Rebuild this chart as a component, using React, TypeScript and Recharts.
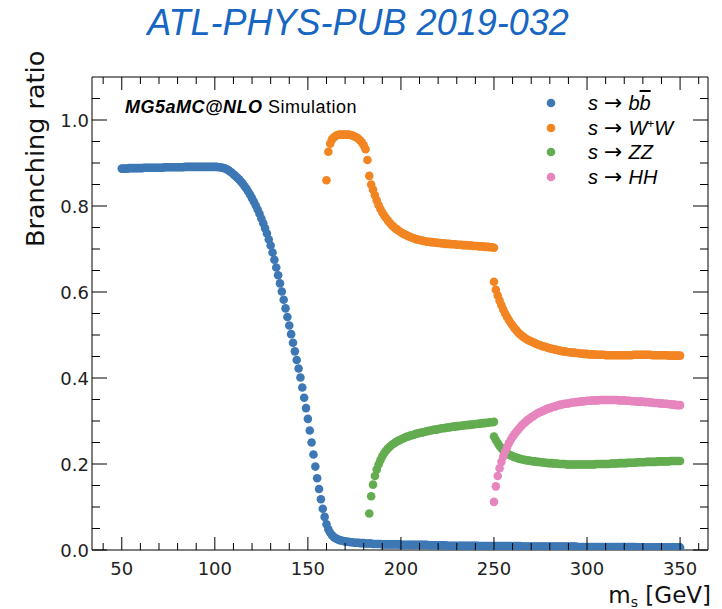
import React from "react";
import { ScatterChart, Scatter, XAxis, YAxis } from "recharts";

// mass grid of every series is 1 GeV, starting at the given mass
const bbStart = 50;
const bbRatio = [
  0.887, 0.887, 0.887, 0.887, 0.888, 0.888, 0.888, 0.888, 0.888, 0.888,
  0.888, 0.888, 0.889, 0.889, 0.889, 0.889, 0.889, 0.889, 0.889, 0.889,
  0.889, 0.889, 0.889, 0.89, 0.89, 0.89, 0.89, 0.89, 0.89, 0.89,
  0.89, 0.89, 0.89, 0.89, 0.891, 0.891, 0.891, 0.891, 0.891, 0.891,
  0.891, 0.891, 0.891, 0.891, 0.891, 0.891, 0.891, 0.891, 0.891, 0.891,
  0.891, 0.891, 0.89, 0.89, 0.889, 0.888, 0.886, 0.884, 0.881, 0.878,
  0.874, 0.87, 0.866, 0.862, 0.857, 0.852, 0.846, 0.84, 0.833, 0.826,
  0.818, 0.81, 0.801, 0.792, 0.782, 0.771, 0.76, 0.748, 0.736, 0.722,
  0.708, 0.692, 0.675, 0.657, 0.639, 0.62, 0.601, 0.582, 0.562, 0.542,
  0.522, 0.502, 0.482, 0.462, 0.442, 0.422, 0.401, 0.378, 0.354, 0.33,
  0.305, 0.278, 0.25, 0.222, 0.194, 0.167, 0.142, 0.118, 0.096, 0.077,
  0.06, 0.048, 0.04, 0.034, 0.03, 0.027, 0.025, 0.023, 0.022, 0.021,
  0.02, 0.019, 0.019, 0.018, 0.018, 0.017, 0.017, 0.017, 0.016, 0.016,
  0.016, 0.015, 0.015, 0.015, 0.015, 0.014, 0.014, 0.014, 0.014, 0.014,
  0.013, 0.013, 0.013, 0.013, 0.013, 0.013, 0.013, 0.013, 0.013, 0.013,
  0.012, 0.012, 0.012, 0.012, 0.012, 0.012, 0.012, 0.012, 0.012, 0.012,
  0.012, 0.012, 0.012, 0.012, 0.012, 0.011, 0.011, 0.011, 0.011, 0.011,
  0.011, 0.011, 0.011, 0.011, 0.011, 0.01, 0.01, 0.01, 0.01, 0.01,
  0.01, 0.01, 0.01, 0.01, 0.01, 0.01, 0.01, 0.01, 0.01, 0.01,
  0.01, 0.01, 0.009, 0.009, 0.009, 0.009, 0.009, 0.009, 0.009, 0.009,
  0.009, 0.009, 0.009, 0.009, 0.009, 0.009, 0.009, 0.009, 0.009, 0.009,
  0.009, 0.009, 0.009, 0.009, 0.009, 0.008, 0.008, 0.008, 0.008, 0.008,
  0.008, 0.008, 0.008, 0.008, 0.008, 0.008, 0.008, 0.008, 0.008, 0.008,
  0.008, 0.008, 0.008, 0.008, 0.008, 0.008, 0.008, 0.008, 0.008, 0.008,
  0.008, 0.008, 0.008, 0.008, 0.008, 0.007, 0.007, 0.007, 0.007, 0.007,
  0.007, 0.007, 0.007, 0.007, 0.007, 0.007, 0.007, 0.007, 0.007, 0.007,
  0.007, 0.007, 0.007, 0.007, 0.007, 0.007, 0.007, 0.007, 0.007, 0.007,
  0.007, 0.007, 0.007, 0.007, 0.007, 0.007, 0.007, 0.006, 0.006, 0.006,
  0.006, 0.006, 0.006, 0.006, 0.006, 0.006, 0.006, 0.006, 0.006, 0.006,
  0.006, 0.006, 0.006, 0.006, 0.006, 0.006, 0.006, 0.006, 0.006, 0.006,
  0.006,
];

const wwStart = 160;
const wwRatio = [
  0.86, 0.926, 0.945, 0.955, 0.96, 0.963, 0.965, 0.966, 0.966, 0.966,
  0.966, 0.966, 0.966, 0.965, 0.964, 0.962, 0.96, 0.957, 0.953, 0.948,
  0.941, 0.932, 0.907, 0.87, 0.85, 0.838, 0.825, 0.813, 0.802, 0.793,
  0.785, 0.778, 0.772, 0.766, 0.761, 0.756, 0.752, 0.748, 0.745, 0.742,
  0.739, 0.736, 0.734, 0.732, 0.73, 0.728, 0.726, 0.725, 0.723, 0.722,
  0.721, 0.72, 0.719, 0.718, 0.717, 0.717, 0.716, 0.716, 0.715, 0.715,
  0.714, 0.714, 0.713, 0.713, 0.712, 0.712, 0.712, 0.711, 0.711, 0.711,
  0.71, 0.71, 0.71, 0.709, 0.709, 0.709, 0.708, 0.708, 0.708, 0.707,
  0.707, 0.707, 0.706, 0.706, 0.706, 0.705, 0.705, 0.705, 0.704, 0.704,
  0.703,
];
// second sample above 250 GeV
const wwHighStart = 250;
const wwHighRatio = [
  0.624, 0.605, 0.592, 0.58, 0.569, 0.559, 0.55, 0.542, 0.535, 0.528,
  0.522, 0.516, 0.511, 0.506, 0.502, 0.498, 0.495, 0.492, 0.489, 0.487,
  0.485, 0.483, 0.481, 0.479, 0.477, 0.476, 0.474, 0.473, 0.472, 0.47,
  0.469, 0.468, 0.467, 0.466, 0.465, 0.464, 0.463, 0.462, 0.462, 0.461,
  0.46, 0.46, 0.459, 0.459, 0.458, 0.458, 0.457, 0.457, 0.456, 0.456,
  0.456, 0.455, 0.455, 0.455, 0.455, 0.454, 0.454, 0.454, 0.454, 0.454,
  0.453, 0.453, 0.453, 0.453, 0.453, 0.453, 0.453, 0.453, 0.453, 0.453,
  0.453, 0.453, 0.453, 0.453, 0.453, 0.454, 0.454, 0.454, 0.454, 0.454,
  0.454, 0.454, 0.454, 0.454, 0.454, 0.453, 0.453, 0.453, 0.453, 0.453,
  0.453, 0.453, 0.453, 0.453, 0.452, 0.452, 0.452, 0.452, 0.452, 0.452,
  0.452,
];

const zzStart = 183;
const zzRatio = [
  0.085, 0.125, 0.152, 0.172, 0.187, 0.199, 0.209, 0.218, 0.225, 0.231,
  0.236, 0.24, 0.244, 0.247, 0.25, 0.253, 0.255, 0.257, 0.259, 0.261,
  0.263, 0.264, 0.266, 0.267, 0.268, 0.27, 0.271, 0.272, 0.273, 0.274,
  0.275, 0.276, 0.277, 0.278, 0.279, 0.28, 0.28, 0.281, 0.282, 0.283,
  0.283, 0.284, 0.285, 0.285, 0.286, 0.287, 0.287, 0.288, 0.288, 0.289,
  0.289, 0.29, 0.29, 0.291, 0.291, 0.292, 0.292, 0.293, 0.293, 0.294,
  0.294, 0.295, 0.295, 0.296, 0.296, 0.297, 0.297, 0.298,
];
const zzHighStart = 250;
const zzHighRatio = [
  0.264, 0.256, 0.249, 0.242, 0.237, 0.232, 0.228, 0.225, 0.222, 0.22,
  0.218, 0.216, 0.215, 0.213, 0.212, 0.211, 0.21, 0.209, 0.208, 0.208,
  0.207, 0.206, 0.206, 0.205, 0.205, 0.204, 0.204, 0.203, 0.203, 0.202,
  0.202, 0.202, 0.201, 0.201, 0.201, 0.2, 0.2, 0.2, 0.2, 0.199,
  0.199, 0.199, 0.199, 0.199, 0.199, 0.199, 0.199, 0.199, 0.199, 0.199,
  0.199, 0.199, 0.199, 0.199, 0.199, 0.2, 0.2, 0.2, 0.2, 0.2,
  0.2, 0.2, 0.2, 0.201, 0.201, 0.201, 0.201, 0.202, 0.202, 0.202,
  0.202, 0.202, 0.203, 0.203, 0.203, 0.203, 0.203, 0.204, 0.204, 0.204,
  0.204, 0.204, 0.205, 0.205, 0.205, 0.205, 0.205, 0.205, 0.206, 0.206,
  0.206, 0.206, 0.206, 0.206, 0.206, 0.207, 0.207, 0.207, 0.207, 0.207,
  0.207,
];

const hhStart = 250;
const hhRatio = [
  0.112, 0.148, 0.172, 0.19, 0.205, 0.218, 0.229, 0.239, 0.248, 0.256,
  0.263, 0.269, 0.275, 0.28, 0.285, 0.29, 0.294, 0.298, 0.302, 0.305,
  0.308, 0.311, 0.314, 0.317, 0.319, 0.321, 0.323, 0.325, 0.327, 0.329,
  0.33, 0.332, 0.333, 0.334, 0.336, 0.337, 0.338, 0.339, 0.34, 0.34,
  0.341, 0.342, 0.343, 0.343, 0.344, 0.344, 0.345, 0.345, 0.346, 0.346,
  0.347, 0.347, 0.347, 0.348, 0.348, 0.348, 0.348, 0.349, 0.349, 0.349,
  0.349, 0.349, 0.349, 0.349, 0.349, 0.349, 0.349, 0.348, 0.348, 0.348,
  0.348, 0.347, 0.347, 0.347, 0.346, 0.346, 0.346, 0.345, 0.345, 0.345,
  0.345, 0.344, 0.344, 0.344, 0.343, 0.343, 0.342, 0.342, 0.342, 0.341,
  0.341, 0.34, 0.34, 0.34, 0.339, 0.339, 0.338, 0.338, 0.337, 0.337,
  0.337,
];

const massTicks = [
  40, 50, 60, 70, 80, 90, 100, 110, 120, 130, 140, 150, 160, 170, 180, 190,
  200, 210, 220, 230, 240, 250, 260, 270, 280, 290, 300, 310, 320, 330, 340,
  350, 360,
];
const massLabels = [50, 100, 150, 200, 250, 300, 350];
const ratioTicks = [
  0, 0.05, 0.1, 0.15, 0.2, 0.25, 0.3, 0.35, 0.4, 0.45, 0.5, 0.55, 0.6, 0.65,
  0.7, 0.75, 0.8, 0.85, 0.9, 0.95, 1.0, 1.05,
];
const ratioLabels = [0, 0.2, 0.4, 0.6, 0.8, 1.0];

const COLORS = {
  bb: "#3d78b5",
  ww: "#f28522",
  zz: "#63ac50",
  hh: "#e685be",
};

const toPoints = (start: number, values: number[]) =>
  values.map((br, i) => ({ m: start + i, br }));

const bbPoints = toPoints(bbStart, bbRatio);
const wwPoints = [...toPoints(wwStart, wwRatio), ...toPoints(wwHighStart, wwHighRatio)];
const zzPoints = [...toPoints(zzStart, zzRatio), ...toPoints(zzHighStart, zzHighRatio)];
const hhPoints = toPoints(hhStart, hhRatio);

const AXIS_FONT = "'DejaVu Sans', sans-serif";
const ROOT_FONT = "'Liberation Sans', Arial, sans-serif";

const isMajorRatio = (v: number) => ratioLabels.some((l) => Math.abs(l - v) < 1e-6);

function MassTick({ x, y, payload }: any) {
  const major = massLabels.includes(payload.value);
  return (
    <g>
      <line x1={x} x2={x} y1={y} y2={y - (major ? 13 : 7)} stroke="#000" />
      {major && (
        <text x={x} y={y + 25} textAnchor="middle" fontFamily={AXIS_FONT} fontSize={18} fill="#222">
          {payload.value}
        </text>
      )}
    </g>
  );
}

function MassTickTop({ x, y, payload }: any) {
  const major = massLabels.includes(payload.value);
  return <line x1={x} x2={x} y1={y} y2={y + (major ? 13 : 7)} stroke="#000" />;
}

function RatioTick({ x, y, payload }: any) {
  const major = isMajorRatio(payload.value);
  return (
    <g>
      <line x1={x} x2={x + (major ? 15 : 8)} y1={y} y2={y} stroke="#000" />
      {major && (
        <text x={x - 3} y={y + 7} textAnchor="end" fontFamily={AXIS_FONT} fontSize={18} fill="#222">
          {payload.value.toFixed(1)}
        </text>
      )}
    </g>
  );
}

function RatioTickRight({ x, y, payload }: any) {
  const major = isMajorRatio(payload.value);
  return <line x1={x} x2={x - (major ? 15 : 8)} y1={y} y2={y} stroke="#000" />;
}

const dot = (color: string) => (props: any) =>
  <circle cx={props.cx} cy={props.cy} r={4.3} fill={color} />;

const legendRows = [
  { color: COLORS.bb, y: 103, name: <>b<span style={{ textDecoration: "overline" }}>b</span></> },
  {
    color: COLORS.ww,
    y: 128,
    name: <>W<span style={{ fontSize: 12, position: "relative", top: -7, fontStyle: "normal" }}>+</span>W</>,
  },
  { color: COLORS.zz, y: 152, name: <>ZZ</> },
  { color: COLORS.hh, y: 177, name: <>HH</> },
];

const axisCommon = {
  tickSize: 0,
  tickMargin: 0,
  interval: 0 as const,
  allowDataOverflow: true,
  axisLine: { stroke: "#000", strokeWidth: 1 },
};

export default function App() {
  return (
    <div style={{ position: "absolute", left: 0, top: 0, width: 722, height: 609, background: "#fff" }}>
      <ScatterChart width={722} height={609} margin={{ top: 76, right: 13, bottom: 58, left: 91 }}>
        <XAxis
          xAxisId={0}
          type="number"
          dataKey="m"
          domain={[34, 365]}
          ticks={massTicks}
          height={1}
          tick={<MassTick />}
          {...axisCommon}
        />
        <XAxis
          xAxisId="top"
          orientation="top"
          type="number"
          dataKey="m"
          domain={[34, 365]}
          ticks={massTicks}
          height={1}
          tick={<MassTickTop />}
          {...axisCommon}
        />
        <YAxis
          yAxisId={0}
          type="number"
          dataKey="br"
          domain={[0, 1.1]}
          ticks={ratioTicks}
          width={1}
          tick={<RatioTick />}
          {...axisCommon}
        />
        <YAxis
          yAxisId="right"
          orientation="right"
          type="number"
          dataKey="br"
          domain={[0, 1.1]}
          ticks={ratioTicks}
          width={1}
          tick={<RatioTickRight />}
          {...axisCommon}
        />
        <Scatter data={bbPoints} fill={COLORS.bb} shape={dot(COLORS.bb)} isAnimationActive={false} />
        <Scatter data={wwPoints} fill={COLORS.ww} shape={dot(COLORS.ww)} isAnimationActive={false} />
        <Scatter data={zzPoints} fill={COLORS.zz} shape={dot(COLORS.zz)} isAnimationActive={false} />
        <Scatter data={hhPoints} fill={COLORS.hh} shape={dot(COLORS.hh)} isAnimationActive={false} />
      </ScatterChart>

      <svg width={722} height={609} style={{ position: "absolute", left: 0, top: 0, pointerEvents: "none" }}>
        <text x={358} y={35} textAnchor="middle" fontFamily={ROOT_FONT} fontStyle="italic" fontSize={36} fill="#1766c2">
          ATL-PHYS-PUB 2019-032
        </text>
        <text x={125} y={113} fontFamily={ROOT_FONT} fontSize={18} letterSpacing={0.5} fill="#000">
          <tspan fontWeight="bold" fontStyle="italic">MG5aMC@NLO</tspan>
          <tspan> Simulation</tspan>
        </text>
        <text
          x={44}
          y={247}
          transform="rotate(-90 44 247)"
          fontFamily={AXIS_FONT}
          fontSize={25.5}
          fill="#111"
        >
          Branching ratio
        </text>
        <text x={711} y={603} textAnchor="end" fontFamily={AXIS_FONT} fontSize={23} fill="#111">
          m<tspan fontSize={14} dy={4}>s</tspan>
          <tspan dy={-4}> [GeV]</tspan>
        </text>
        {legendRows.map((r) => (
          <circle key={r.y} cx={551} cy={r.y} r={4.3} fill={r.color} />
        ))}
      </svg>

      {legendRows.map((r) => (
        <div
          key={r.y}
          style={{
            position: "absolute",
            left: 588,
            top: r.y - 13,
            height: 26,
            lineHeight: "26px",
            fontFamily: ROOT_FONT,
            fontSize: 20,
            fontStyle: "italic",
            whiteSpace: "nowrap",
            color: "#000",
          }}
        >
          <span>s</span>
          <span style={{ fontStyle: "normal", fontFamily: AXIS_FONT, fontSize: 22, margin: "0 6px 0 6px" }}>→</span>
          <span>{r.name}</span>
        </div>
      ))}
    </div>
  );
}
